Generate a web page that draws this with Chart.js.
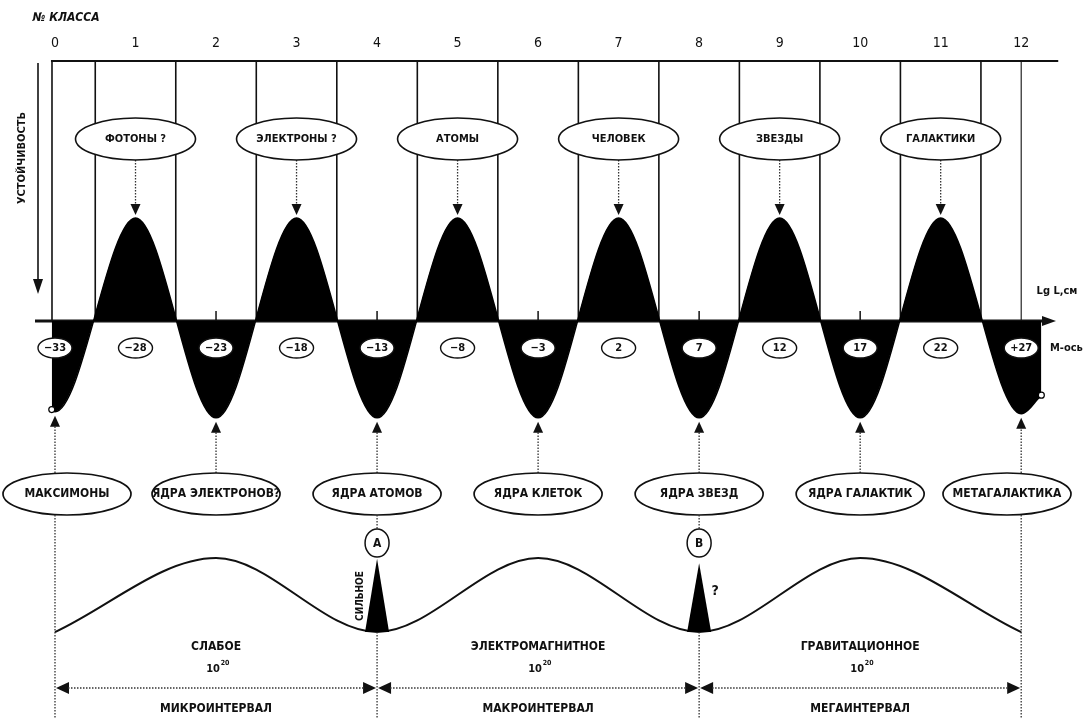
<!DOCTYPE html>
<html>
<head>
<meta charset="utf-8">
<script src="https://cdn.jsdelivr.net/npm/chart.js@4/dist/chart.umd.min.js"></script>
<style>
  html, body { margin: 0; padding: 0; background: #fff; }
  #wrap { width: 1084px; height: 719px; }
</style>
</head>
<body>
<div id="wrap"><canvas id="diagram" width="1084" height="719"></canvas></div>
<script>
// номера классов и волна устойчивости
const classNumbers = [0, 1, 2, 3, 4, 5, 6, 7, 8, 9, 10, 11, 12];
const classBounds = [0, 0.5, 1.5, 2.5, 3.5, 4.5, 5.5, 6.5, 7.5, 8.5, 9.5, 10.5, 11.5, 12];
const waveClass = [-0.04, 0, 1, 2, 3, 4, 5, 6, 7, 8, 9, 10, 11, 12, 12.25];
const waveStability = [-0.86, -0.88, 1, -0.94, 1, -0.94, 1, -0.94, 1, -0.94, 1, -0.94, 1, -0.9, -0.72];
const mAxisLabels = ['−33', '−28', '−23', '−18', '−13', '−8', '−3', '2', '7', '12', '17', '22', '+27'];

// подписи над и под волной
const topClasses = [1, 3, 5, 7, 9, 11];
const topNames = ['ФОТОНЫ ?', 'ЭЛЕКТРОНЫ ?', 'АТОМЫ', 'ЧЕЛОВЕК', 'ЗВЕЗДЫ', 'ГАЛАКТИКИ'];
const bottomClasses = [0, 2, 4, 6, 8, 10, 12];
const bottomNames = ['МАКСИМОНЫ', 'ЯДРА ЭЛЕКТРОНОВ?', 'ЯДРА АТОМОВ', 'ЯДРА КЛЕТОК', 'ЯДРА ЗВЕЗД', 'ЯДРА ГАЛАКТИК', 'МЕТАГАЛАКТИКА'];

// волна взаимодействий
const forceClass = [0, 2, 4, 6, 8, 10, 12];
const forceValue = [0, 1, 0, 1, 0, 1, 0];
const strongClass = [4, 8];
const strongHeight = [0.99, 0.93];
const strongMarks = ['А', 'В'];

// интервалы
const intervalFrom = [0, 4, 8];
const intervalTo = [4, 8, 12];
const forceNames = ['СЛАБОЕ', 'ЭЛЕКТРОМАГНИТНОЕ', 'ГРАВИТАЦИОННОЕ'];
const forcePower = ['20', '20', '20'];
const intervalNames = ['МИКРОИНТЕРВАЛ', 'МАКРОИНТЕРВАЛ', 'МЕГАИНТЕРВАЛ'];

const FONT = '"Liberation Sans Narrow", "DejaVu Sans Condensed", "Arial Narrow", sans-serif';
const INK = '#111';
const TOP_Y = 61;

function line(ctx, x1, y1, x2, y2) {
  ctx.beginPath();
  ctx.moveTo(x1, y1);
  ctx.lineTo(x2, y2);
  ctx.stroke();
}

function dotted(ctx, x1, y1, x2, y2) {
  ctx.save();
  ctx.setLineDash([1.5, 1.5]);
  ctx.lineWidth = 1.3;
  ctx.strokeStyle = '#333';
  line(ctx, x1, y1, x2, y2);
  ctx.restore();
}

function arrowHead(ctx, tx, ty, dir, len, half) {
  ctx.beginPath();
  ctx.moveTo(tx, ty);
  if (dir === 'down') { ctx.lineTo(tx - half, ty - len); ctx.lineTo(tx + half, ty - len); }
  if (dir === 'up') { ctx.lineTo(tx - half, ty + len); ctx.lineTo(tx + half, ty + len); }
  if (dir === 'left') { ctx.lineTo(tx + len, ty - half); ctx.lineTo(tx + len, ty + half); }
  if (dir === 'right') { ctx.lineTo(tx - len, ty - half); ctx.lineTo(tx - len, ty + half); }
  ctx.closePath();
  ctx.fill();
}

function ellipse(ctx, cx, cy, rx, ry, lw) {
  ctx.beginPath();
  ctx.ellipse(cx, cy, rx, ry, 0, 0, Math.PI * 2);
  ctx.fillStyle = '#fff';
  ctx.fill();
  ctx.lineWidth = lw;
  ctx.strokeStyle = INK;
  ctx.stroke();
}

function label(ctx, text, x, y, font) {
  ctx.font = font;
  ctx.fillStyle = INK;
  ctx.textAlign = 'center';
  ctx.textBaseline = 'middle';
  ctx.fillText(text, x, y);
}

function vertText(ctx, text, x, y, font) {
  ctx.save();
  ctx.translate(x, y);
  ctx.rotate(-Math.PI / 2);
  label(ctx, text, 0, 0, font);
  ctx.restore();
}

const diagramPlugin = {
  id: 'diagram',
  beforeDatasetsDraw(chart) {
    const { ctx, scales: { x, y } } = chart;
    const axisY = y.getPixelForValue(0);
    ctx.save();
    ctx.strokeStyle = INK;
    ctx.fillStyle = INK;

    ctx.lineWidth = 2;
    line(ctx, x.getPixelForValue(-0.05), TOP_Y, x.getPixelForValue(12.46), TOP_Y);

    classBounds.forEach((b, i) => {
      ctx.lineWidth = i === classBounds.length - 1 ? 1.1 : 1.6;
      const px = x.getPixelForValue(b) - (i === 0 ? 3 : 0);
      line(ctx, px, TOP_Y, px, axisY);
    });

    // ось устойчивости
    ctx.lineWidth = 1.6;
    line(ctx, 38, 63, 38, 282);
    arrowHead(ctx, 38, 294, 'down', 15, 5);
    vertText(ctx, 'УСТОЙЧИВОСТЬ', 22, 158, 'bold 11px ' + FONT);

    // М-ось
    ctx.lineWidth = 3;
    line(ctx, 35, axisY, 1046, axisY);
    arrowHead(ctx, 1056, axisY, 'right', 14, 5);
    ctx.lineWidth = 1.5;
    [2, 4, 6, 8, 10].forEach(c => {
      const px = x.getPixelForValue(c);
      line(ctx, px, axisY - 10, px, axisY);
    });
    ctx.restore();
  },
  afterDatasetsDraw(chart) {
    const { ctx, scales: { x, y, y2 } } = chart;
    ctx.save();

    // номера классов
    label(ctx, '№ КЛАССА', 66, 18, 'italic bold 12px ' + FONT);
    classNumbers.forEach(c => label(ctx, String(c), x.getPixelForValue(c), 43, '14px ' + FONT));

    label(ctx, 'Lg L,см', 1057, 291, 'bold 11px ' + FONT);
    ctx.textAlign = 'left';
    ctx.font = 'bold 11px ' + FONT;
    ctx.fillText('М-ось', 1050, 348);

    // верхние подписи
    topClasses.forEach((c, i) => {
      const px = x.getPixelForValue(c);
      const peak = y.getPixelForValue(waveStability[waveClass.indexOf(c)]);
      dotted(ctx, px, 160, px, peak - 14);
      ctx.fillStyle = INK;
      arrowHead(ctx, px, peak - 3, 'down', 11, 5);
      ellipse(ctx, px, 139, 60, 21, 1.6);
      label(ctx, topNames[i], px, 139, 'bold 11px ' + FONT);
    });

    // значения lg L на М-оси
    classNumbers.forEach((c, i) => {
      const px = x.getPixelForValue(c);
      ellipse(ctx, px, 348, 17, 10, 1.4);
      label(ctx, mAxisLabels[i], px, 348, 'bold 11px ' + FONT);
    });

    // нижние подписи
    bottomClasses.forEach((c, i) => {
      const px = x.getPixelForValue(c);
      const low = y.getPixelForValue(waveStability[waveClass.indexOf(c)]);
      dotted(ctx, px, 473, px, low + 14);
      ctx.fillStyle = INK;
      arrowHead(ctx, px, low + 4, 'up', 11, 5);
      const rx = 64;
      const cx = Math.min(Math.max(px, rx + 3), chart.width - rx - 13);
      ellipse(ctx, cx, 494, rx, 21, 1.7);
      label(ctx, bottomNames[i], cx, 494, 'bold 12px ' + FONT);
    });

    // вертикали интервалов
    [0, 12].forEach(c => {
      const px = x.getPixelForValue(c);
      dotted(ctx, px, 515, px, 719);
    });
    strongClass.forEach((c, i) => {
      const px = x.getPixelForValue(c);
      const base = y2.getPixelForValue(0);
      const apex = y2.getPixelForValue(strongHeight[i]);
      dotted(ctx, px, 515, px, 529);
      dotted(ctx, px, base, px, 719);
      ctx.beginPath();
      ctx.moveTo(px, apex);
      ctx.lineTo(px - 12, base);
      ctx.lineTo(px + 12, base);
      ctx.closePath();
      ctx.fillStyle = '#000';
      ctx.fill();
      ellipse(ctx, px, 543, 12, 14, 1.5);
      label(ctx, strongMarks[i], px, 544, 'bold 12px ' + FONT);
    });
    vertText(ctx, 'СИЛЬНОЕ', x.getPixelForValue(4) - 17, 596, 'bold 10px ' + FONT);
    label(ctx, '?', x.getPixelForValue(8) + 16, 591, 'bold 14px ' + FONT);

    // интервалы и силы
    intervalFrom.forEach((from, i) => {
      const x1 = x.getPixelForValue(from);
      const x2 = x.getPixelForValue(intervalTo[i]);
      const mid = (x1 + x2) / 2;
      const ay = 688;
      ctx.fillStyle = INK;
      arrowHead(ctx, x1 + 1, ay, 'left', 13, 6);
      arrowHead(ctx, x2 - 1, ay, 'right', 13, 6);
      dotted(ctx, x1 + 13, ay, x2 - 13, ay);
      label(ctx, forceNames[i], mid, 647, 'bold 12px ' + FONT);
      label(ctx, '10', mid - 3, 669, 'bold 11px ' + FONT);
      label(ctx, forcePower[i], mid + 9, 663, 'bold 7px ' + FONT);
      label(ctx, intervalNames[i], mid, 709, 'bold 12px ' + FONT);
    });
    ctx.restore();
  }
};

const lastIdx = waveClass.length - 1;

new Chart(document.getElementById('diagram'), {
  type: 'line',
  data: {
    datasets: [{
      label: 'устойчивость',
      data: waveClass.map((c, i) => ({ x: c, y: waveStability[i] })),
      yAxisID: 'y',
      borderColor: '#000',
      borderWidth: 1.5,
      backgroundColor: '#000',
      fill: 'origin',
      cubicInterpolationMode: 'monotone',
      pointRadius: ctx => (ctx.dataIndex === 0 || ctx.dataIndex === lastIdx) ? 3 : 0,
      pointBackgroundColor: '#fff',
      pointBorderColor: '#000',
      pointBorderWidth: 1.2
    }, {
      label: 'взаимодействия',
      data: forceClass.map((c, i) => ({ x: c, y: forceValue[i] })),
      yAxisID: 'y2',
      borderColor: '#111',
      borderWidth: 2,
      fill: false,
      cubicInterpolationMode: 'monotone',
      pointRadius: 0
    }]
  },
  options: {
    responsive: false,
    animation: false,
    layout: { padding: 0, autoPadding: false },
    plugins: {
      legend: { display: false },
      tooltip: { enabled: false },
      title: { display: false }
    },
    scales: {
      x: { type: 'linear', min: -0.683, max: 12.78, display: false },
      y: { min: -3.864, max: 3.117, display: false },
      y2: { min: -1.175, max: 8.541, display: false }
    }
  },
  plugins: [diagramPlugin]
});
</script>
</body>
</html>
